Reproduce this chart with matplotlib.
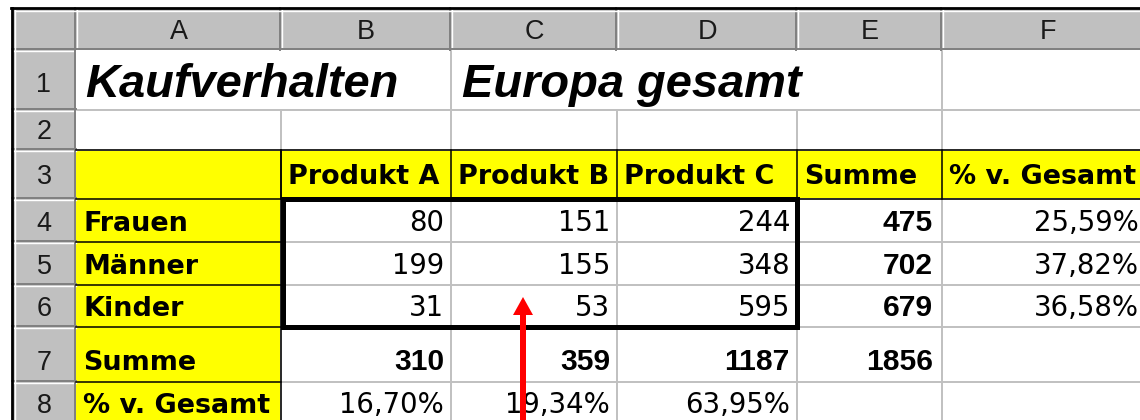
import matplotlib.pyplot as plt
from matplotlib.patches import Rectangle, FancyArrow

title_left = 'Kaufverhalten'
title_right = 'Europa gesamt'
col_letters = ['A', 'B', 'C', 'D', 'E', 'F']
row_numbers = ['1', '2', '3', '4', '5', '6', '7', '8']
products = ['Produkt A', 'Produkt B', 'Produkt C']
extra_headers = ['Summe', '% v. Gesamt']
groups = ['Frauen', 'Männer', 'Kinder']
frauen = [80, 151, 244]
maenner = [199, 155, 348]
kinder = [31, 53, 595]
row_sums = [475, 702, 679]
row_pct = ['25,59%', '37,82%', '36,58%']
col_sums = [310, 359, 1187]
grand_total = 1856
col_pct = ['16,70%', '19,34%', '63,95%']
bottom_labels = ['Summe', '% v. Gesamt']

# ---- sheet geometry in pixels ----
W, H = 1140, 420
xs = [76, 281, 451, 617, 797, 942, 1146]          # column edges A..F
ys = [50, 110, 150, 199, 242, 285, 327, 382, 425]  # row edges 1..8
base = [92, 139, 184, 231, 274, 316, 370, 413]     # text baselines per row
hdr_x0, hdr_y0 = 12, 8

YELLOW = '#ffff00'
GRID = '#c0c0c0'
HEAD = '#c0c0c0'
DARK = '#808080'

fig = plt.figure(figsize=(W / 100, H / 100), dpi=100)
ax = fig.add_axes([0, 0, 1, 1])
ax.set_xlim(0, W)
ax.set_ylim(H, 0)
ax.axis('off')

def px(v):
    return v * 0.72

# headers background
ax.add_patch(Rectangle((hdr_x0, hdr_y0), W - hdr_x0, ys[0] - hdr_y0, color=HEAD, lw=0))
ax.add_patch(Rectangle((hdr_x0, hdr_y0), xs[0] - hdr_x0, H - hdr_y0, color=HEAD, lw=0))

# yellow cells
ax.add_patch(Rectangle((xs[0], ys[2]), W - xs[0], ys[3] - ys[2], color=YELLOW, lw=0))
ax.add_patch(Rectangle((xs[0], ys[3]), xs[1] - xs[0], H - ys[3], color=YELLOW, lw=0))

# light gridlines in the white area
for x in xs[1:-1]:
    ax.plot([x, x], [ys[1], ys[2]], color=GRID, lw=1.4)
    ax.plot([x, x], [ys[3], H], color=GRID, lw=1.4)
    if x in (xs[2], xs[5]):
        ax.plot([x, x], [ys[0], ys[1]], color=GRID, lw=1.4)
for y in ys[1:]:
    ax.plot([xs[1], W], [y, y], color=GRID, lw=1.4)
ax.plot([xs[0], W], [ys[1], ys[1]], color=GRID, lw=1.4)
ax.plot([xs[0], W], [ys[2], ys[2]], color=GRID, lw=1.4)

# 3D header separators
for x in xs[:-1]:
    ax.plot([x - 1, x - 1], [hdr_y0, ys[0]], color=DARK, lw=1.4)
    ax.plot([x + 1, x + 1], [hdr_y0, ys[0]], color='white', lw=1)
for y in ys[:-1]:
    ax.plot([hdr_x0, xs[0]], [y - 1, y - 1], color=DARK, lw=1.4)
    ax.plot([hdr_x0, xs[0]], [y + 1, y + 1], color='white', lw=1)
ax.plot([xs[0] - 1, xs[0] - 1], [ys[0], H], color=DARK, lw=1.4)
ax.plot([hdr_x0, W], [ys[0] - 1, ys[0] - 1], color=DARK, lw=1.4)
ax.plot([hdr_x0 + 3, W], [hdr_y0 + 2.5, hdr_y0 + 2.5], color='white', lw=1)
ax.plot([hdr_x0 + 2.5, hdr_x0 + 2.5], [hdr_y0 + 2, H], color='white', lw=1)

# outer black frame
ax.plot([hdr_x0 - 1, W], [hdr_y0, hdr_y0], color='black', lw=2)
ax.plot([hdr_x0, hdr_x0], [hdr_y0, H], color='black', lw=2)

# thin black borders on the yellow cells
ax.plot([xs[0], W], [ys[2], ys[2]], color='black', lw=1.1)
ax.plot([xs[0], W], [ys[3], ys[3]], color='black', lw=1.1)
for x in xs[1:-1]:
    ax.plot([x, x], [ys[2], ys[3]], color='black', lw=1.1)
ax.plot([xs[1], xs[1]], [ys[2], H], color='black', lw=1.1)
for y in ys[4:-1]:
    ax.plot([xs[0], xs[1]], [y, y], color='black', lw=1.1)

# thick box round the data block
ax.add_patch(Rectangle((xs[1] + 2, ys[3]), xs[4] - xs[1] - 2, ys[6] - ys[3],
                       fill=False, ec='black', lw=3.6, zorder=4))

hfont = dict(family='Liberation Sans', color='#1a1a1a', fontsize=px(27))
bold = dict(family='DejaVu Sans', weight='bold', fontsize=px(27))
num = dict(family='DejaVu Sans', fontsize=px(27.5))
bnum = dict(family='Liberation Sans', weight='bold', fontsize=px(30))
tfont = dict(family='Liberation Sans', weight='bold', style='italic', fontsize=px(47))

# column letters and row numbers
for i, c in enumerate(col_letters):
    ax.text((xs[i] + xs[i + 1]) / 2 if i < 5 else 1048, 39, c, ha='center', va='baseline', **hfont)
for i, r in enumerate(row_numbers):
    ax.text((hdr_x0 + xs[0]) / 2, base[i], r, ha='center', va='baseline', **hfont)

# titles
ax.text(xs[0] + 9, 97, title_left, ha='left', va='baseline', **tfont)
ax.text(xs[2] + 11, 97, title_right, ha='left', va='baseline', **tfont)

# header row
for i, p in enumerate(products + extra_headers):
    ax.text(xs[i + 1] + 7, base[2], p, ha='left', va='baseline', **bold)

# row labels
for i, g in enumerate(groups + bottom_labels):
    ax.text(xs[0] + 7, base[3 + i], g, ha='left', va='baseline', **bold)

# data block
for r, vals in enumerate([frauen, maenner, kinder]):
    for c, v in enumerate(vals):
        ax.text(xs[c + 2] - 7, base[3 + r], str(v), ha='right', va='baseline', **num)
    ax.text(xs[5] - 9, base[3 + r], str(row_sums[r]), ha='right', va='baseline', **bnum)
    ax.text(xs[6] - 7, base[3 + r], row_pct[r], ha='right', va='baseline', **num)

for c, v in enumerate(col_sums):
    ax.text(xs[c + 2] - 7, base[6], str(v), ha='right', va='baseline', **bnum)
ax.text(xs[5] - 9, base[6], str(grand_total), ha='right', va='baseline', **bnum)
for c, v in enumerate(col_pct):
    ax.text(xs[c + 2] - 7, base[7], v, ha='right', va='baseline', **num)

# red arrow
ax.add_patch(FancyArrow(523, H + 5, 0, -(H + 5 - 297), width=6, head_width=20,
                        head_length=18, length_includes_head=True,
                        color='red', lw=0, zorder=5))

fig.savefig('out.png', dpi=100)
